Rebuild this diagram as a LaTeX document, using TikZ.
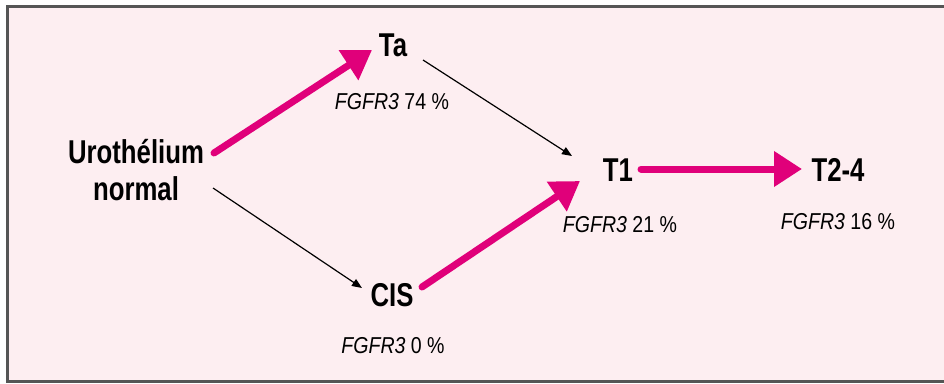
\documentclass[tikz,border=0pt]{standalone}
\usepackage{fontspec}
\setmainfont{Liberation Sans}
\newfontfamily\bigf{Liberation Sans}[FakeStretch=0.78]
\newfontfamily\smf{Liberation Sans}[FakeStretch=0.85]
\usetikzlibrary{arrows.meta}
\definecolor{bgpink}{RGB}{253,238,241}
\definecolor{mag}{RGB}{224,0,122}
\definecolor{framegray}{RGB}{85,85,85}
\begin{document}
\begin{tikzpicture}[x=1pt,y=-1pt,
  stage/.style={font=\bigf\bfseries\fontsize{33}{37}\selectfont, inner sep=0pt, align=center},
  gene/.style={font=\smf\fontsize{23}{27}\selectfont, inner sep=0pt},
  majorarrow/.style={draw=mag, line width=7pt, line cap=round, -{Triangle[length=28pt,width=34pt]}},
  minorarrow/.style={draw=black, line width=1.2pt, -{Triangle[length=10pt,width=8pt]}}]
\useasboundingbox (0,0) rectangle (944,383);
\clip (0,0) rectangle (944,383);
\draw[fill=bgpink, draw=framegray, line width=3pt] (7,6) rectangle (960,381);

\node[stage] (uro) at (136,170) {Urothélium\\normal};
\node[stage] (ta) at (393,45) {Ta};
\node[gene] (gta) at (392,102) {\textit{FGFR3} 74 \%};
\node[stage] (t1) at (618,170) {T1};
\node[gene] (gt1) at (620,225) {\textit{FGFR3} 21 \%};
\node[stage] (t24) at (838,170) {T2-4};
\node[gene] (gt24) at (838,222) {\textit{FGFR3} 16 \%};
\node[stage] (cis) at (392,295) {CIS};
\node[gene] (gcis) at (393,346) {\textit{FGFR3} 0 \%};

\draw[majorarrow] ([shift={(78,-17)}]uro.center) -- ([shift={(-21,5)}]ta.center);
\draw[minorarrow] ([shift={(77,18)}]uro.center) -- ([shift={(-30,-7)}]cis.center);
\draw[minorarrow] ([shift={(30,15)}]ta.center) -- ([shift={(-46,-14)}]t1.center);
\draw[majorarrow] ([shift={(30,-8)}]cis.center) -- ([shift={(-38,11)}]t1.center);
\draw[majorarrow] ([shift={(23,-1)}]t1.center) -- ([shift={(-36,-1)}]t24.center);
\end{tikzpicture}
\end{document}
